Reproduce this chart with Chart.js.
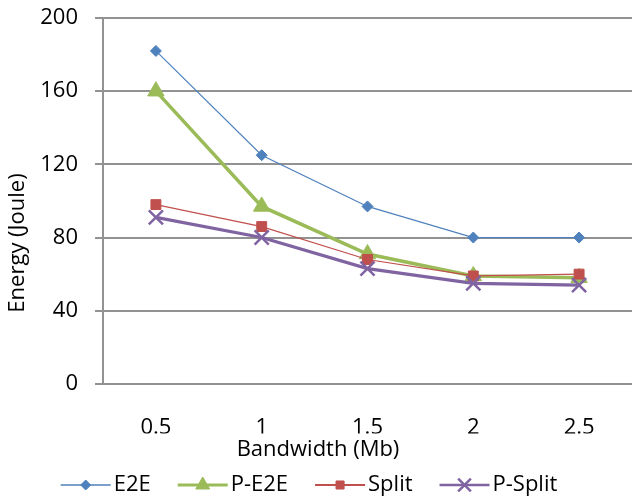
<!DOCTYPE html>
<html>
<head>
<meta charset="utf-8">
<script src="https://cdn.jsdelivr.net/npm/chart.js"></script>
<style>
  html, body { margin: 0; padding: 0; background: #fff; overflow: hidden; }
  #wrap { width: 632px; height: 500px; }
</style>
</head>
<body>
<div id="wrap"><canvas id="energyChart"></canvas></div>
<script>
const categories = ["0.5", "1", "1.5", "2", "2.5"];
const e2eValues = [182, 125, 97, 80, 80];
const pE2eValues = [160, 97, 71, 59, 58];
const splitValues = [98, 86, 68, 59, 60];
const pSplitValues = [91, 80, 63, 55, 54];
const yTickValues = [0, 40, 80, 120, 160, 200];

const FONT = "Open Sans";
const gridColor = "#929292";

// legend with a line and the marker on it, like the office chart
const lineLegend = {
  id: "lineLegend",
  afterDraw(chart, args, opts) {
    const ctx = chart.ctx;
    const sets = chart.data.datasets;
    ctx.save();
    ctx.font = opts.fontSize + 'px "' + FONT + '"';
    const widths = sets.map((d) => ctx.measureText(d.label).width);
    let total = opts.itemGap * (sets.length - 1);
    widths.forEach((w) => { total += opts.lineLength + opts.textGap + w; });
    let x = opts.centerX - total / 2;
    const y = opts.y;
    sets.forEach((d, i) => {
      ctx.strokeStyle = d.borderColor;
      ctx.lineWidth = opts.lineWidths[i];
      ctx.beginPath();
      ctx.moveTo(x, y);
      ctx.lineTo(x + opts.lineLength, y);
      ctx.stroke();

      ctx.fillStyle = d.pointBackgroundColor;
      ctx.strokeStyle = d.pointBorderColor;
      ctx.lineWidth = d.pointBorderWidth;
      Chart.helpers.drawPoint(ctx, {
        pointStyle: d.pointStyle,
        radius: opts.radii[i],
        borderWidth: d.pointBorderWidth,
        rotation: 0
      }, x + opts.lineLength / 2, y);

      ctx.fillStyle = "#000";
      ctx.textAlign = "left";
      ctx.textBaseline = "middle";
      ctx.fillText(d.label, x + opts.lineLength + opts.textGap, y);
      x += opts.lineLength + opts.textGap + widths[i] + opts.itemGap;
    });
    ctx.restore();
  }
};

new Chart(document.getElementById("energyChart"), {
  type: "line",
  data: {
    labels: categories,
    datasets: [
      {
        label: "E2E",
        data: e2eValues,
        borderColor: "#4F81BD",
        borderWidth: 1.2,
        pointStyle: "rectRot",
        pointRadius: 5.5,
        pointBackgroundColor: "#4F81BD",
        pointBorderColor: "#4F81BD",
        pointBorderWidth: 1,
        order: 4
      },
      {
        label: "P-E2E",
        data: pE2eValues,
        borderColor: "#9BBB59",
        borderWidth: 3.5,
        pointStyle: "triangle",
        pointRadius: 9.5,
        pointBackgroundColor: "#9BBB59",
        pointBorderColor: "#9BBB59",
        pointBorderWidth: 1,
        order: 3
      },
      {
        label: "Split",
        data: splitValues,
        borderColor: "#C0504D",
        borderWidth: 1.2,
        pointStyle: "rect",
        pointRadius: 7,
        pointBackgroundColor: "#C0504D",
        pointBorderColor: "#C0504D",
        pointBorderWidth: 1,
        order: 2
      },
      {
        label: "P-Split",
        data: pSplitValues,
        borderColor: "#8064A2",
        borderWidth: 3.2,
        pointStyle: "crossRot",
        pointRadius: 10,
        pointBackgroundColor: "#8064A2",
        pointBorderColor: "#8064A2",
        pointBorderWidth: 2.5,
        order: 1
      }
    ]
  },
  options: {
    responsive: true,
    maintainAspectRatio: false,
    animation: false,
    devicePixelRatio: 1,
    layout: {
      autoPadding: false,
      padding: { top: 18, bottom: 32, left: 0, right: -4 }
    },
    elements: {
      line: { tension: 0 }
    },
    scales: {
      x: {
        type: "category",
        offset: true,
        grid: { display: false },
        border: { color: gridColor, width: 2 },
        ticks: {
          padding: 23,
          color: "#000",
          font: { family: FONT, size: 22 }
        },
        afterFit(scale) {
          scale.height = 49.5;
          scale.paddingLeft = 0;
          scale.paddingRight = 0;
        }
      },
      y: {
        min: 0,
        max: 200,
        grid: { color: gridColor, lineWidth: 2, tickLength: 8 },
        border: { color: gridColor, width: 2 },
        ticks: {
          padding: 17,
          color: "#000",
          font: { family: FONT, size: 22 }
        },
        afterBuildTicks(scale) {
          scale.ticks = yTickValues.map((v) => ({ value: v }));
        },
        afterFit(scale) {
          scale.width = 71.8;
          scale.paddingTop = 0;
          scale.paddingBottom = 0;
        }
      }
    },
    plugins: {
      legend: { display: false },
      tooltip: { enabled: false },
      title: {
        display: true,
        text: "Bandwidth (Mb)",
        position: "bottom",
        color: "#000",
        font: { family: FONT, size: 22, weight: "normal" },
        padding: { top: 3.4, bottom: 4.8 }
      },
      subtitle: {
        display: true,
        text: "Energy (Joule)",
        position: "left",
        color: "#000",
        font: { family: FONT, size: 22, weight: "normal" },
        padding: { top: 4.8, bottom: 0 }
      },
      lineLegend: {
        fontSize: 22,
        centerX: 309,
        y: 485,
        lineLength: 50,
        textGap: 3,
        itemGap: 27,
        lineWidths: [1.5, 3, 2, 2.5],
        radii: [5, 8, 5.7, 9]
      }
    }
  },
  plugins: [lineLegend]
});
</script>
</body>
</html>
